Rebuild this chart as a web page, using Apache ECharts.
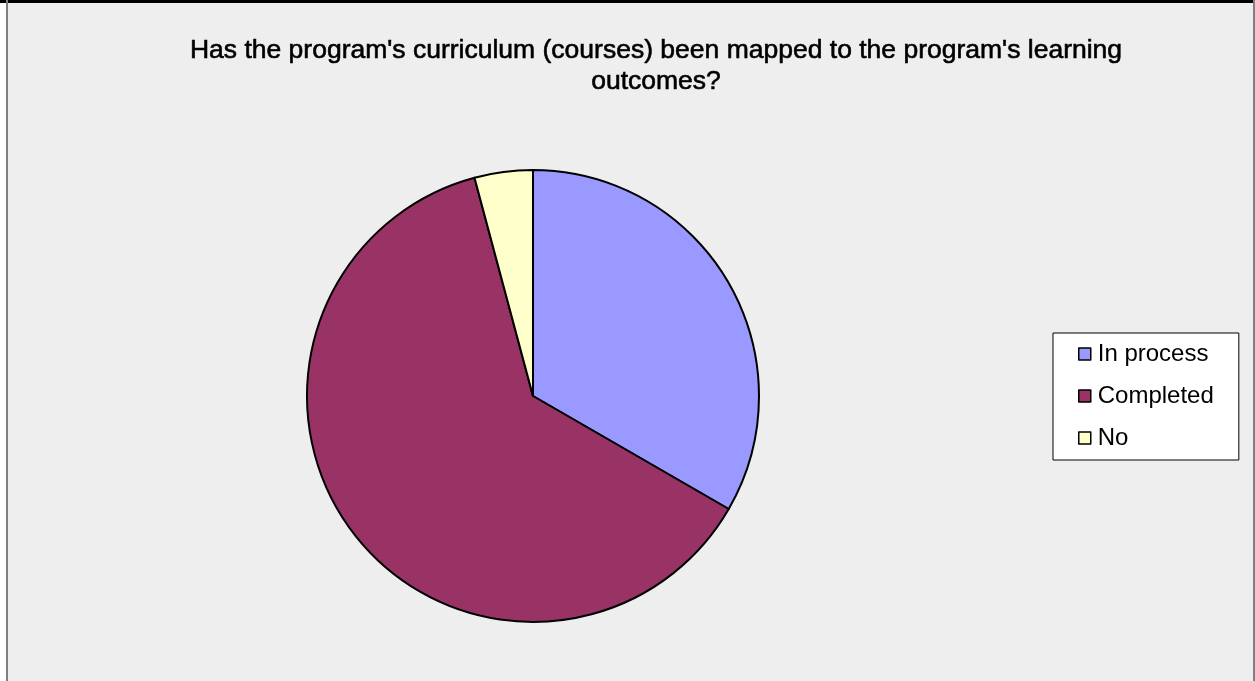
<!DOCTYPE html>
<html>
<head>
<meta charset="utf-8">
<script src="https://cdn.jsdelivr.net/npm/echarts@6/dist/echarts.min.js"></script>
<style>
  html, body { margin: 0; padding: 0; background: #ffffff; }
  #chart { width: 1255px; height: 681px; }
</style>
</head>
<body>
<div id="chart"></div>
<script>
// Survey responses: curriculum mapping status
const titleText = "Has the program's curriculum (courses) been mapped to the program's learning\noutcomes?";
const categories = ['In process', 'Completed', 'No'];
const counts = [8, 15, 1];
const sliceColors = ['#9999FF', '#993366', '#FFFFCC'];

const chart = echarts.init(document.getElementById('chart'), null, { renderer: 'canvas' });

const pieData = categories.map((name, i) => ({
  name: name,
  value: counts[i],
  itemStyle: { color: sliceColors[i] }
}));

chart.setOption({
  animation: false,
  backgroundColor: '#ffffff',
  graphic: [
    // chart area fill and frame
    { type: 'rect', z: -10, shape: { x: 7, y: 0, width: 1248, height: 681 }, style: { fill: '#EEEEEE' } },
    { type: 'line', z: 10, shape: { x1: 0, y1: 1.5, x2: 1255, y2: 1.5 }, style: { stroke: '#000000', lineWidth: 3 } },
    { type: 'line', z: 10, shape: { x1: 7, y1: 0, x2: 7, y2: 681 }, style: { stroke: '#808080', lineWidth: 2 } },
    { type: 'line', z: 10, shape: { x1: 1254, y1: 0, x2: 1254, y2: 681 }, style: { stroke: '#808080', lineWidth: 2 } }
  ],
  title: {
    text: titleText,
    left: 651,
    textAlign: 'center',
    top: 30,
    textStyle: {
      fontFamily: 'Liberation Sans, Arial, sans-serif',
      fontSize: 26.5,
      fontWeight: 'normal',
      color: '#000000',
      textBorderColor: '#000000',
      textBorderWidth: 0.6,
      lineHeight: 31
    }
  },
  legend: {
    orient: 'vertical',
    left: 1053,
    top: 333,
    data: categories,
    icon: 'rect',
    itemWidth: 12,
    itemHeight: 12,
    itemGap: 18,
    padding: [9, 25, 10, 25],
    backgroundColor: '#ffffff',
    borderColor: '#000000',
    borderWidth: 1,
    borderRadius: 0,
    selectedMode: false,
    itemStyle: { borderColor: '#000000', borderWidth: 1.5 },
    textStyle: {
      fontFamily: 'Liberation Sans, Arial, sans-serif',
      fontSize: 24,
      lineHeight: 24,
      color: '#000000',
      padding: [0, 0, 0, 2]
    }
  },
  series: [{
    type: 'pie',
    center: [533, 396],
    radius: [0, 226],
    startAngle: 90,
    clockwise: true,
    silent: true,
    label: { show: false },
    labelLine: { show: false },
    itemStyle: { borderColor: '#000000', borderWidth: 2 },
    data: pieData
  }]
});
</script>
</body>
</html>
